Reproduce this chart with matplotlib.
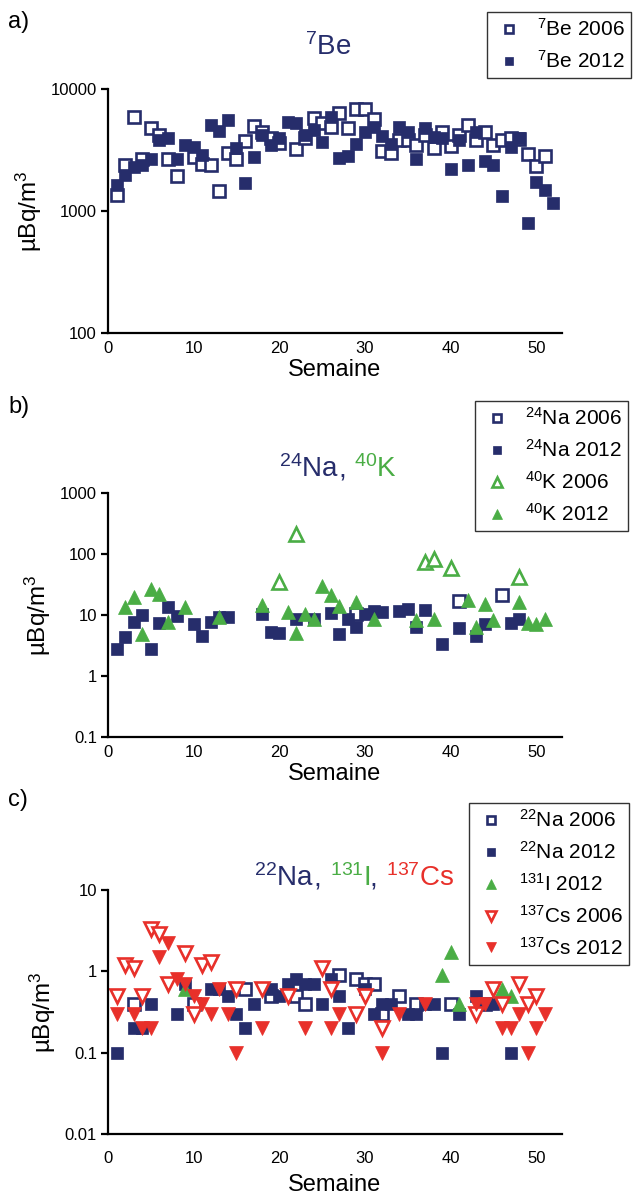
import matplotlib
matplotlib.use("Agg")
import matplotlib.pyplot as plt
from matplotlib.ticker import FixedLocator, FixedFormatter, NullLocator

plt.rcParams['font.family'] = ['Liberation Sans', 'DejaVu Sans']
plt.rcParams['mathtext.fontset'] = 'custom'
plt.rcParams['mathtext.rm'] = 'Liberation Sans'
plt.rcParams['mathtext.it'] = 'Liberation Sans:italic'

NAVY = '#262d6b'
GREEN = '#4aad45'
RED = '#e8302a'

# ---------------- data ----------------
# Panel a: 7Be
be06_weeks = [1, 2, 3, 4, 5, 6, 7, 8, 10, 11, 12, 13, 14, 15, 16, 17, 18, 19, 20, 22, 23, 24, 25,
              26, 27, 28, 29, 30, 31, 32, 33, 34, 35, 36, 37, 38, 39, 40, 41, 42, 43, 44, 45, 46,
              47, 48, 49, 50, 51]
be06_vals = [1350, 2400, 5900, 2670, 4800, 4200, 2670, 1940, 2790, 2430, 2400, 1460, 2970, 2670,
             3750, 5000, 4470, 3950, 3630, 3200, 3990, 5750, 5230, 4900, 6400, 4770, 6800, 6800,
             5670, 3100, 2970, 3820, 3820, 3480, 4200, 3270, 4470, 3410, 4200, 5070, 3820, 4470,
             3480, 3820, 3950, 3900, 2920, 2340, 2840]
be12_weeks = list(range(1, 53))
be12_vals = [1630, 1970, 2310, 2380, 2670, 3820, 3980, 2670, 3480, 3370, 2880, 5070, 4550, 5570,
             3270, 1690, 2790, 4200, 3480, 3950, 5340, 5230, 4200, 4610, 3700, 5930, 2740, 2830,
             3520, 4420, 4910, 4140, 3520, 4910, 4470, 2670, 4770, 4060, 3950, 2200, 3820, 2400,
             4470, 2570, 2400, 1330, 3370, 3950, 790, 1740, 1490, 1160]

# Panel b: 24Na, 40K
na24_06_weeks = [29, 41, 46]
na24_06_vals = [10.5, 17, 21]
na24_12_weeks = [1, 2, 3, 4, 5, 6, 7, 8, 10, 11, 12, 13, 14, 18, 19, 20, 22, 24, 26, 27, 28, 29,
                 30, 31, 32, 34, 35, 36, 37, 39, 41, 43, 44, 47, 48]
na24_12_vals = [2.8, 4.3, 7.7, 9.9, 2.8, 7.4, 13.5, 9.5, 7.0, 4.6, 7.7, 9.3, 9.3, 10.5, 5.3, 5.0,
                8.7, 8.7, 10.8, 4.8, 8.7, 6.4, 10.5, 11.6, 11, 11.5, 12.7, 6.4, 12.2, 3.3, 6.2,
                4.6, 7.0, 7.4, 8.7]
k40_06_weeks = [20, 22, 37, 38, 40, 48]
k40_06_vals = [35, 216, 74, 84, 58, 42]
k40_12_weeks = [2, 3, 4, 5, 6, 7, 9, 13, 18, 21, 22, 23, 24, 25, 26, 27, 29, 31, 36, 38, 42, 43,
                44, 45, 48, 49, 50, 51]
k40_12_vals = [13.5, 19.7, 4.8, 27, 21.9, 7.7, 13.3, 9.3, 14.4, 11.2, 5.0, 10.3, 8.5, 29.5, 21,
               13.9, 16.3, 8.7, 8.2, 8.7, 17.4, 6.4, 15.4, 8.2, 16.3, 7.4, 7.0, 8.7]

# Panel c: 22Na, 131I, 137Cs
na22_06_weeks = [3, 10, 16, 19, 22, 23, 27, 29, 30, 31, 32, 34, 36, 40, 44]
na22_06_vals = [0.4, 0.4, 0.6, 0.5, 0.5, 0.4, 0.9, 0.8, 0.7, 0.7, 0.3, 0.5, 0.4, 0.4, 0.4]
na22_12_weeks = [1, 3, 4, 5, 8, 9, 12, 13, 14, 15, 16, 17, 19, 20, 21, 22, 23, 24, 25, 26, 27, 28,
                 30, 31, 32, 33, 35, 36, 37, 38, 39, 41, 43, 44, 45, 47]
na22_12_vals = [0.1, 0.2, 0.2, 0.4, 0.3, 0.7, 0.6, 0.6, 0.5, 0.3, 0.2, 0.4, 0.6, 0.5, 0.7, 0.8,
                0.7, 0.7, 0.4, 0.8, 0.5, 0.2, 0.6, 0.3, 0.4, 0.4, 0.3, 0.3, 0.4, 0.4, 0.1, 0.3,
                0.5, 0.4, 0.4, 0.1]
i131_12_weeks = [9, 39, 40, 41, 46, 47]
i131_12_vals = [0.6, 0.9, 1.75, 0.4, 0.6, 0.5]
cs137_06_weeks = [1, 2, 3, 4, 5, 6, 7, 9, 10, 11, 12, 15, 18, 21, 25, 26, 29, 30, 32, 43, 45, 46,
                  48, 49, 50]
cs137_06_vals = [0.5, 1.2, 1.1, 0.5, 3.3, 2.9, 0.7, 1.7, 0.3, 1.2, 1.3, 0.6, 0.6, 0.5, 1.1, 0.6,
                 0.3, 0.5, 0.2, 0.3, 0.6, 0.4, 0.7, 0.4, 0.5]
cs137_12_weeks = [1, 3, 4, 5, 6, 7, 8, 9, 10, 11, 12, 13, 14, 15, 18, 23, 26, 27, 32, 34, 37, 43,
                  44, 46, 47, 48, 49, 50, 51]
cs137_12_vals = [0.3, 0.3, 0.2, 0.2, 1.5, 2.2, 0.8, 0.7, 0.5, 0.4, 0.3, 0.6, 0.3, 0.1, 0.2, 0.2,
                 0.2, 0.3, 0.1, 0.3, 0.4, 0.4, 0.4, 0.2, 0.2, 0.3, 0.1, 0.2, 0.3]

x_ticks = [0, 10, 20, 30, 40, 50]
yticks_a = [100, 1000, 10000]
yticks_b = [0.1, 1, 10, 100, 1000]
yticks_c = [0.01, 0.1, 1, 10]
ytl_a = ['100', '1000', '10000']
ytl_b = ['0.1', '1', '10', '100', '1000']
ytl_c = ['0.01', '0.1', '1', '10']

# ---------------- figure ----------------
W, H = 633, 1203
fig = plt.figure(figsize=(W / 100, H / 100), dpi=100)

def px_axes(left, top, right, bottom):
    return fig.add_axes([left / W, 1 - bottom / H, (right - left) / W, (bottom - top) / H])

axA = px_axes(108, 89, 562, 333)
axB = px_axes(108, 493, 562, 737)
axC = px_axes(108, 890, 562, 1134)

MS_SQ = 8.3
MS_TRI = 10.5
MEW = 1.9

def style(ax, yt, ytl, xpad=6, lpad=2):
    ax.set_yscale('log')
    ax.set_xlim(0, 53)
    ax.set_ylim(yt[0], yt[-1])
    ax.yaxis.set_major_locator(FixedLocator(yt))
    ax.yaxis.set_major_formatter(FixedFormatter(ytl))
    ax.yaxis.set_minor_locator(NullLocator())
    ax.set_xticks(x_ticks)
    ax.set_xticklabels([str(t) for t in x_ticks])
    for s in ['top', 'right']:
        ax.spines[s].set_visible(False)
    for s in ['left', 'bottom']:
        ax.spines[s].set_linewidth(1.6)
    ax.tick_params(axis='both', direction='out', length=5, width=1.6, labelsize=12, pad=3)
    ax.tick_params(axis='x', length=0, pad=xpad)
    ax.set_xlabel('Semaine', fontsize=17, labelpad=lpad)
    ax.set_ylabel('µBq/m$^3$', fontsize=17.5, labelpad=5)

def openpts(ax, x, y, marker, color, label, ms):
    ax.plot(x, y, ls='none', marker=marker, ms=ms, mfc='white', mec=color, mew=MEW, label=label)

def fillpts(ax, x, y, marker, color, label, ms):
    ax.plot(x, y, ls='none', marker=marker, ms=ms, mfc=color, mec=color, mew=0.5, label=label)

# Panel a
openpts(axA, be06_weeks, be06_vals, 's', NAVY, r'$^{7}$Be 2006', MS_SQ)
fillpts(axA, be12_weeks, be12_vals, 's', NAVY, r'$^{7}$Be 2012', MS_SQ)
style(axA, yticks_a, ytl_a)

# Panel b
openpts(axB, na24_06_weeks, na24_06_vals, 's', NAVY, r'$^{24}$Na 2006', MS_SQ)
fillpts(axB, na24_12_weeks, na24_12_vals, 's', NAVY, r'$^{24}$Na 2012', MS_SQ)
openpts(axB, k40_06_weeks, k40_06_vals, '^', GREEN, r'$^{40}$K 2006', MS_TRI)
fillpts(axB, k40_12_weeks, k40_12_vals, '^', GREEN, r'$^{40}$K 2012', MS_TRI)
style(axB, yticks_b, ytl_b)

# Panel c
openpts(axC, na22_06_weeks, na22_06_vals, 's', NAVY, r'$^{22}$Na 2006', MS_SQ)
fillpts(axC, na22_12_weeks, na22_12_vals, 's', NAVY, r'$^{22}$Na 2012', MS_SQ)
fillpts(axC, i131_12_weeks, i131_12_vals, '^', GREEN, r'$^{131}$I 2012', MS_TRI)
openpts(axC, cs137_06_weeks, cs137_06_vals, 'v', RED, r'$^{137}$Cs 2006', MS_TRI)
fillpts(axC, cs137_12_weeks, cs137_12_vals, 'v', RED, r'$^{137}$Cs 2012', MS_TRI)
style(axC, yticks_c, ytl_c, xpad=12, lpad=6)

def legend(ax, left, top):
    leg = ax.legend(loc='upper left', bbox_to_anchor=(left / W, 1 - top / H),
                    bbox_transform=fig.transFigure, fontsize=15, frameon=True,
                    fancybox=False, edgecolor='black', markerscale=0.75,
                    handlelength=1.5, handletextpad=0.6, labelspacing=0.48,
                    borderpad=0.3, borderaxespad=0)
    leg.get_frame().set_linewidth(1.0)
    return leg

legend(axA, 487, 12)
legend(axB, 475, 401)
legend(axC, 469, 803)

# Multi-coloured titles
fig.canvas.draw()
renderer = fig.canvas.get_renderer()

def color_title(cx, cy, parts, size=20):
    texts = []
    for s, c in parts:
        t = fig.text(0, 0, s, color=c, fontsize=size, va='baseline', ha='left')
        texts.append(t)
    widths = [t.get_window_extent(renderer).width for t in texts]
    total = sum(widths)
    x = cx - total / 2
    for t, w in zip(texts, widths):
        t.set_position((x / W, 1 - cy / H))
        x += w

color_title(328, 55, [(r'$^{7}$Be', NAVY)])
color_title(338, 477, [(r'$^{24}$Na', NAVY), (', ', NAVY), (r'$^{40}$K', GREEN)])
color_title(354, 886, [(r'$^{22}$Na', NAVY), (', ', NAVY), (r'$^{131}$I', GREEN),
                       (', ', NAVY), (r'$^{137}$Cs', RED)])

for lab, y in [('a)', 28), ('b)', 413), ('c)', 806)]:
    fig.text(8 / W, 1 - y / H, lab, fontsize=17, va='baseline', ha='left')

fig.savefig('out.png', dpi=100)
